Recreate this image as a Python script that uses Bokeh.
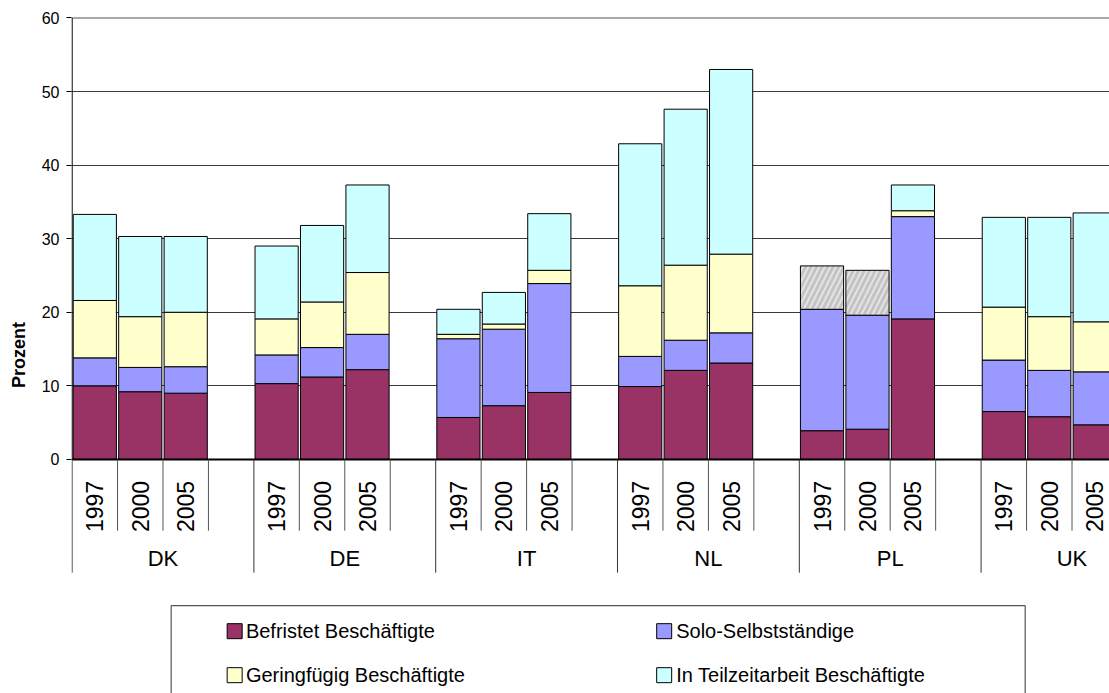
import numpy as np
from bokeh.plotting import figure
from bokeh.models import ColumnDataSource, FixedTicker, Range1d, CDSView, IndexFilter, Span
from bokeh.core.properties import value
from bokeh.transform import stack
from bokeh.embed import file_html
from bokeh.resources import INLINE

# ---------------- data ----------------
countries = ["DK", "DE", "IT", "NL", "PL", "UK"]
years = ["1997", "2000", "2005"]

# values per country and year (DK 1997, DK 2000, DK 2005, DE 1997, ...)
befristet = [10.0, 9.2, 9.0, 10.3, 11.2, 12.2, 5.7, 7.3, 9.1,
             9.9, 12.1, 13.1, 3.9, 4.1, 19.1, 6.5, 5.8, 4.7]
solo = [3.8, 3.3, 3.6, 3.9, 4.0, 4.8, 10.7, 10.4, 14.8,
        4.1, 4.1, 4.1, 16.5, 15.5, 13.9, 7.0, 6.3, 7.2]
gering = [7.8, 6.9, 7.4, 4.9, 6.2, 8.4, 0.6, 0.7, 1.8,
          9.6, 10.2, 10.7, 0.0, 0.0, 0.8, 7.2, 7.3, 6.8]
teilzeit = [11.7, 10.9, 10.3, 9.9, 10.4, 11.9, 3.4, 4.3, 7.7,
            19.3, 21.2, 25.1, 0.0, 0.0, 3.5, 12.2, 13.5, 14.8]
# hatched (grey) segment shown on top of PL 1997 / 2000
schraffiert = [0, 0, 0, 0, 0, 0, 0, 0, 0,
               0, 0, 0, 5.9, 6.1, 0, 0, 0, 0]

series_keys = ["befristet", "solo", "gering", "teilzeit"]
series_names = ["Befristet Beschäftigte", "Solo-Selbstständige",
                "Geringfügig Beschäftigte", "In Teilzeitarbeit Beschäftigte"]
series_colors = ["#993366", "#9999FF", "#FFFFCC", "#CCFFFF"]
y_ticks = [0, 10, 20, 30, 40, 50, 60]
y_label = "Prozent"

# ---------------- layout helpers ----------------
slots = len(years) + 1  # three years + one empty slot per country
xpos = [c * slots + j + 0.5 for c in range(len(countries)) for j in range(len(years))]
year_labels = [y for _ in countries for y in years]

source = ColumnDataSource(dict(
    x=xpos, befristet=befristet, solo=solo, gering=gering,
    teilzeit=teilzeit, schraffiert=schraffiert,
))

FONT = value("Liberation Sans")

p = figure(width=1109, height=693,
           x_range=Range1d(-0.013, 22.825), y_range=Range1d(-31.82, 60.2),
           output_backend="svg", toolbar_location=None,
           x_axis_location=None,
           min_border_left=71, min_border_top=16,
           min_border_right=0, min_border_bottom=0)
p.outline_line_color = None
p.background_fill_color = "white"
p.border_fill_color = "white"

# grid
p.xgrid.visible = False
p.ygrid.ticker = FixedTicker(ticks=y_ticks[1:-1])
p.ygrid.grid_line_color = "#3a3a3a"
p.ygrid.grid_line_width = 1
p.add_layout(Span(location=y_ticks[-1], dimension="width",
                  line_color="#a8a8a8", line_width=2, level="underlay"))

# y axis
ax = p.yaxis[0]
ax.ticker = FixedTicker(ticks=y_ticks)
ax.axis_line_color = None
ax.major_tick_out = 5
ax.major_tick_in = 0
ax.minor_tick_line_color = None
ax.major_tick_line_color = "black"
ax.major_label_standoff = 7
ax.major_label_text_font = "Liberation Sans"
ax.major_label_text_font_size = "16px"
ax.major_label_text_color = "black"
ax.axis_label = y_label
ax.axis_label_text_font = "Liberation Sans"
ax.axis_label_text_font_style = "bold"
ax.axis_label_text_font_size = "18px"
ax.axis_label_text_color = "black"
ax.axis_label_standoff = 10

# stacked bars
p.vbar_stack(series_keys, x="x", width=0.95, source=source,
             fill_color=series_colors, line_color="black", line_width=1)

hatched_idx = [i for i, v in enumerate(schraffiert) if v > 0]
p.vbar(x="x", width=0.95, source=source, view=CDSView(filter=IndexFilter(hatched_idx)),
       bottom=stack(*series_keys), top=stack(*series_keys, "schraffiert"),
       fill_color="#e4e4e4", line_color="black", line_width=1,
       hatch_pattern="/", hatch_color="#c4c4c4", hatch_scale=11, hatch_weight=3)

# axis lines
x_end = len(countries) * slots
p.segment(x0=[0], y0=[0], x1=[0], y1=[y_ticks[-1]], line_color="black", line_width=1.2)
p.segment(x0=[0], y0=[0], x1=[x_end], y1=[0], line_color="black", line_width=2)

# category dividers
short_b, long_b = [], []
for c in range(len(countries)):
    for k in range(slots):
        (long_b if k == 0 else short_b).append(c * slots + k)
long_b.append(x_end)
p.segment(x0=short_b, y0=[0] * len(short_b), x1=short_b, y1=[-9.69] * len(short_b),
          line_color="#555555", line_width=1)
p.segment(x0=long_b, y0=[0] * len(long_b), x1=long_b, y1=[-15.4] * len(long_b),
          line_color="#333333", line_width=1)

# category labels
p.text(x=xpos, y=[-6.4] * len(xpos), text=year_labels, angle=np.pi / 2,
       text_align="center", text_baseline="middle",
       text_font=FONT, text_font_size="23px", text_color="black")
country_x = [c * slots + 2 for c in range(len(countries))]
p.text(x=country_x, y=[-13.49] * len(countries), text=countries,
       text_align="center", text_baseline="middle",
       text_font=FONT, text_font_size="22px", text_color="black")

# legend (box with 2 x 2 entries)
p.quad(left=[2.18], right=[20.97], top=[-19.88], bottom=[-34.0],
       fill_color=None, line_color="#555555", line_width=1.2)
leg_sq_x = [3.577, 13.027, 3.577, 13.027]
leg_tx_x = [3.824, 13.291, 3.824, 13.291]
leg_y = [-23.35, -23.35, -29.33, -29.33]
p.scatter(x=leg_sq_x, y=leg_y, marker="square", size=15,
          fill_color=series_colors, line_color="black", line_width=1)
p.text(x=leg_tx_x, y=leg_y, text=series_names, text_align="left",
       text_baseline="middle", text_font=FONT, text_font_size="20px",
       text_color="black")

open("out.html", "w").write(file_html(p, INLINE))
